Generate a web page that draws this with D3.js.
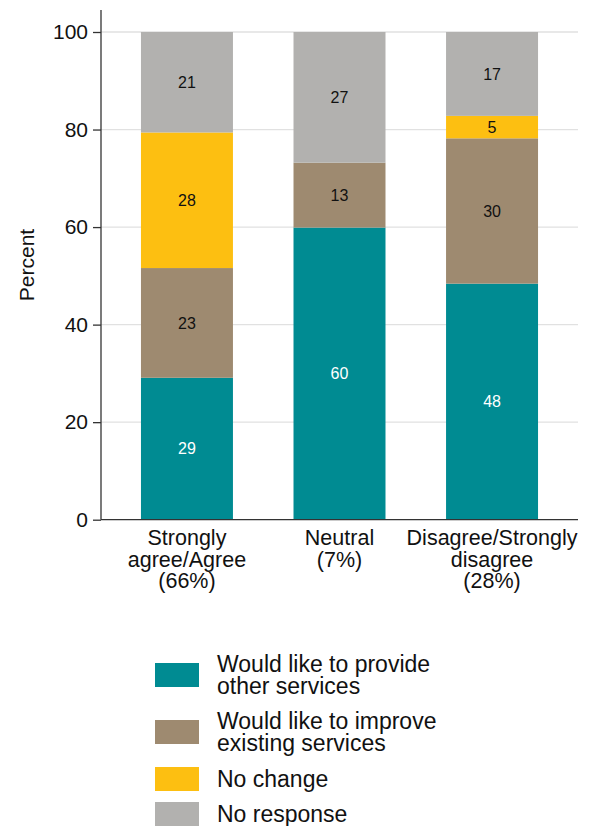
<!DOCTYPE html>
<html><head><meta charset="utf-8">
<script src="https://cdn.jsdelivr.net/npm/d3@7"></script>
<style>body{margin:0;background:#fff}svg{display:block;font-family:"Liberation Sans",Arial,sans-serif}</style>
</head><body><svg id="c" width="589" height="826"></svg>
<script>
const categories = [["Strongly","agree/Agree","(66%)"],["Neutral","(7%)"],["Disagree/Strongly","disagree","(28%)"]];
const seriesNames = [["Would like to provide","other services"],["Would like to improve","existing services"],["No change"],["No response"]];
const seriesColors = ["#008b92","#9e8a70","#fdbf11","#b2b1af"];
const provideOther = [29.1, 59.9, 48.4];
const improveExisting = [22.5, 13.3, 29.8];
const noChange = [27.8, 0, 4.6];
const noResponse = [20.6, 26.8, 17.2];
const yTicks = [0,20,40,60,80,100];

const series = [provideOther, improveExisting, noChange, noResponse];
const svg = d3.select("#c");
const x = d3.scaleBand().domain(d3.range(categories.length)).range([101,578]).paddingInner(0.397).paddingOuter(0.262);
const y = d3.scaleLinear().domain([0,100]).range([519.7,32]);

// gridlines
svg.append("g").selectAll("line").data(yTicks.filter(d=>d>0)).join("line")
  .attr("x1",101).attr("x2",578).attr("y1",d=>y(d)).attr("y2",d=>y(d))
  .attr("stroke","#e1e1e1").attr("stroke-width",1.3);

// stacked bars
const stackData = categories.map((c,i)=>{const o={i}; series.forEach((s,k)=>o[k]=s[i]); return o;});
const stacked = d3.stack().keys(d3.range(series.length))(stackData);
stacked.forEach((layer,k)=>{
  const g = svg.append("g");
  g.selectAll("rect").data(layer.filter(d=>d[1]-d[0]>0)).join("rect")
    .attr("x",d=>x(d.data.i)).attr("width",x.bandwidth())
    .attr("y",d=>y(d[1])).attr("height",d=>y(d[0])-y(d[1]))
    .attr("fill",seriesColors[k]);
  g.selectAll("text").data(layer.filter(d=>d[1]-d[0]>0)).join("text")
    .attr("x",d=>x(d.data.i)+x.bandwidth()/2).attr("y",d=>y((d[0]+d[1])/2))
    .attr("dy","0.35em").attr("text-anchor","middle").attr("font-size",16)
    .attr("fill",k===0?"#fff":"#111")
    .text(d=>Math.round(d[1]-d[0]));
});

// y axis
const ya = svg.append("g").attr("transform","translate(101,0)")
  .call(d3.axisLeft(y).tickValues(yTicks).tickSize(8).tickPadding(5));
ya.select(".domain").attr("d","M0,10V519.7").attr("stroke","#333").attr("stroke-width",1.3);
ya.selectAll(".tick line").attr("stroke","#333").attr("stroke-width",1.3);
ya.selectAll(".tick text").attr("font-size",21).attr("fill","#111").attr("font-family","Liberation Sans, Arial, sans-serif");

// x axis line
svg.append("line").attr("x1",101).attr("x2",578).attr("y1",y(0)).attr("y2",y(0)).attr("stroke","#333").attr("stroke-width",1.3);

// x labels
categories.forEach((lines,i)=>{
  const t = svg.append("text").attr("text-anchor","middle").attr("font-size",21.5).attr("fill","#111");
  lines.forEach((l,j)=>t.append("tspan").attr("x",x(i)+x.bandwidth()/2).attr("y",545+j*21.5).text(l));
});

// y label
svg.append("text").attr("transform","translate(34,265) rotate(-90)").attr("text-anchor","middle")
  .attr("font-size",21).attr("fill","#111").text("Percent");

// legend
const legY = [663,720,767,802];
const legBase = [672,729,787,822];
seriesNames.forEach((lines,k)=>{
  svg.append("rect").attr("x",155).attr("y",legY[k]).attr("width",44).attr("height",24).attr("fill",seriesColors[k]);
  const t = svg.append("text").attr("font-size",23).attr("fill","#111");
  lines.forEach((l,j)=>t.append("tspan").attr("x",217).attr("y",legBase[k]+j*21.5).text(l));
});
</script></body></html>
